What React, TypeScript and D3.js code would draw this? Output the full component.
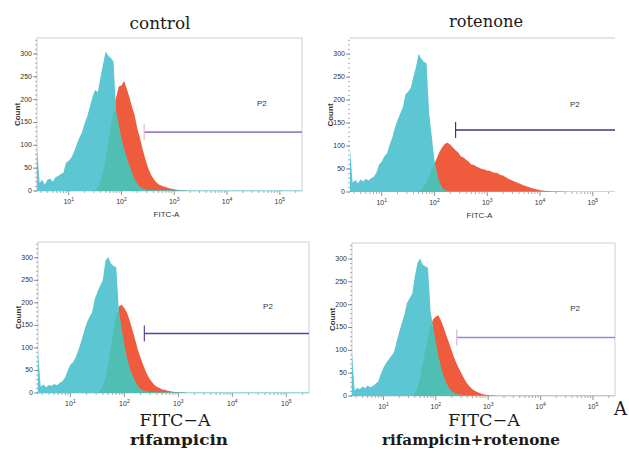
import React from "react";
import * as d3 from "d3";

// log10(FITC-A) bin centres shared by every histogram
const logBins = [
  0.4, 0.45, 0.5, 0.55, 0.6, 0.65, 0.7, 0.75, 0.8, 0.85,
  0.9, 0.95, 1.0, 1.05, 1.1, 1.15, 1.2, 1.25, 1.3, 1.35,
  1.4, 1.45, 1.5, 1.55, 1.6, 1.65, 1.7, 1.75, 1.8, 1.85,
  1.9, 1.95, 2.0, 2.05, 2.1, 2.15, 2.2, 2.25, 2.3, 2.35,
  2.4, 2.45, 2.5, 2.55, 2.6, 2.65, 2.7, 2.75, 2.8, 2.85,
  2.9, 2.95, 3.0, 3.05, 3.1, 3.15, 3.2, 3.25, 3.3, 3.35,
  3.4, 3.55, 3.7, 3.85, 4.0, 4.2, 4.6, 5.0, 5.42,
];

const cyanControl = [
  95, 18, 24, 14, 25, 27, 20, 30, 33, 37,
  40, 62, 66, 73, 86, 101, 116, 128, 147, 163,
  184, 206, 221, 216, 247, 277, 306, 296, 291, 283,
  172, 141, 113, 91, 72, 55, 38, 25, 15, 9,
  5, 3, 2, 2, 1, 1, 1, 1, 1, 1,
  1, 1, 1, 1, 1, 1, 1, 1, 1, 1,
  1, 1, 1, 1, 1, 1, 1, 1, 1,
];
const redControl = [
  0, 0, 0, 0, 0, 0, 0, 0, 0, 0,
  0, 0, 0, 0, 0, 0, 0, 0, 0, 0,
  0, 0, 2, 6, 20, 40, 70, 105, 140, 176,
  206, 229, 231, 241, 224, 206, 184, 166, 137, 116,
  92, 71, 52, 38, 28, 20, 15, 12, 10, 8,
  6, 5, 4, 3, 2, 1, 1, 0, 0, 0,
  0, 0, 0, 0, 0, 0, 0, 0, 0,
];

const cyanRotenone = [
  93, 20, 26, 19, 27, 23, 29, 25, 30, 33,
  42, 60, 66, 78, 84, 103, 118, 140, 156, 170,
  184, 212, 218, 226, 250, 272, 301, 290, 283, 280,
  170, 120, 69, 38, 18, 8, 4, 2, 1, 1,
  1, 1, 1, 1, 1, 1, 1, 1, 1, 1,
  1, 1, 1, 1, 1, 1, 1, 1, 1, 1,
  1, 1, 1, 1, 1, 1, 1, 1, 1,
];
const redRotenone = [
  0, 0, 0, 0, 0, 0, 0, 0, 0, 0,
  0, 0, 0, 0, 0, 0, 0, 0, 0, 0,
  0, 0, 0, 0, 0, 0, 2, 5, 12, 20,
  35, 50, 62, 75, 88, 98, 105, 107, 103, 97,
  91, 86, 77, 75, 70, 66, 60, 59, 55, 53,
  50, 49, 46, 46, 43, 42, 41, 37, 36, 32,
  29, 21, 14, 8, 4, 1, 0, 0, 0,
];

const cyanRifampicin = [
  93, 14, 19, 13, 18, 16, 20, 17, 22, 26,
  34, 50, 63, 68, 80, 96, 115, 136, 155, 168,
  178, 208, 224, 238, 250, 294, 302, 288, 282, 279,
  180, 140, 105, 75, 55, 38, 25, 15, 8, 5,
  3, 2, 2, 1, 1, 1, 1, 1, 1, 1,
  1, 1, 1, 1, 1, 1, 1, 1, 1, 1,
  1, 1, 1, 1, 1, 1, 1, 1, 1,
];
const redRifampicin = [
  0, 0, 0, 0, 0, 0, 0, 0, 0, 0,
  0, 0, 0, 0, 0, 0, 0, 0, 0, 0,
  0, 0, 0, 5, 15, 35, 65, 100, 140, 175,
  192, 196, 188, 178, 160, 140, 118, 96, 78, 62,
  47, 35, 26, 19, 14, 11, 8, 7, 5, 4,
  3, 2, 2, 1, 1, 0, 0, 0, 0, 0,
  0, 0, 0, 0, 0, 0, 0, 0, 0,
];

const cyanRifRot = [
  92, 12, 18, 15, 21, 17, 23, 19, 22, 27,
  32, 48, 62, 72, 80, 88, 95, 118, 140, 160,
  178, 204, 214, 224, 262, 292, 301, 288, 284, 281,
  185, 150, 115, 85, 60, 42, 28, 17, 10, 6,
  4, 3, 2, 1, 1, 1, 1, 1, 1, 1,
  1, 1, 1, 1, 1, 1, 1, 1, 1, 1,
  1, 1, 1, 1, 1, 1, 1, 1, 1,
];
const redRifRot = [
  0, 0, 0, 0, 0, 0, 0, 0, 0, 0,
  0, 0, 0, 0, 0, 0, 0, 0, 0, 0,
  0, 0, 0, 0, 5, 18, 40, 70, 100, 130,
  155, 168, 174, 176, 165, 150, 133, 117, 100, 84,
  70, 58, 47, 36, 27, 20, 15, 11, 8, 6,
  4, 3, 2, 1, 1, 0, 0, 0, 0, 0,
  0, 0, 0, 0, 0, 0, 0, 0, 0,
];

// P2 gate: start (log10 FITC-A) and level (count)
const gateStart = [2.43, 2.4, 2.37, 2.4];
const gateLevel = [129, 135, 132, 128];
const gateLabelPos = [4.66, 190];

const yTicks = [0, 50, 100, 150, 200, 250, 300];
const xDecades = [1, 2, 3, 4, 5];

const CYAN = "#5dc6d3";
const RED = "#ee5b3d";
const TEAL = "#4fbfb3";

type PanelProps = {
  box: { x: number; y: number; w: number; h: number };
  cyan: number[];
  red: number[];
  gate: number;
  gateColor: string;
  tickColor: string;
  smallLabel: boolean;
  openFrame?: boolean;
};

const Panel = ({ box, cyan, red, gate, gateColor, tickColor, smallLabel, openFrame }: PanelProps) => {
  const x = d3.scaleLinear().domain([0.4, 5.42]).range([box.x, box.x + box.w]);
  const y = d3.scaleLinear().domain([0, 335]).range([box.y + box.h, box.y]);

  const area = d3
    .area<number>()
    .x((d, i) => x(logBins[i]))
    .y0(y(0))
    .y1((d) => y(d));

  const overlap = cyan.map((c, i) => Math.min(c, red[i]));

  // log minor ticks
  const minor: number[] = [];
  for (let k = 0; k <= 5; k++) {
    for (let m = 2; m <= 9; m++) {
      const v = k + Math.log10(m);
      if (v > 0.4 && v < 5.42) minor.push(v);
    }
  }
  const yMinor = d3.range(0, 336, 10);

  const gy = y(gateLevel[gate]);
  const gx = x(gateStart[gate]);

  return (
    <g>
      {openFrame ? (
        <line x1={box.x} x2={box.x + box.w} y1={box.y} y2={box.y} stroke="#c8c8c8" strokeWidth={1} />
      ) : (
        <rect x={box.x} y={box.y} width={box.w} height={box.h} fill="none" stroke="#cfcfcf" strokeWidth={1} />
      )}
      <path d={area(red) || ""} fill={RED} />
      <path d={area(cyan) || ""} fill={CYAN} />
      <path d={area(overlap) || ""} fill={TEAL} />

      {/* gate */}
      <line x1={gx} x2={box.x + box.w} y1={gy} y2={gy} stroke={gateColor} strokeWidth={1.6} />
      <line x1={gx} x2={gx} y1={gy - 8} y2={gy + 8} stroke={tickColor} strokeWidth={1.2} />
      <text
        x={x(gateLabelPos[0])}
        y={y(gateLabelPos[1])}
        fontFamily="Liberation Sans, sans-serif"
        fontSize={8}
        fill="#333"
        textAnchor="middle"
        dominantBaseline="middle"
      >
        P2
      </text>

      {/* y axis */}
      {yMinor.map((v) => (
        <line key={"ym" + v} x1={box.x - 2} x2={box.x} y1={y(v)} y2={y(v)} stroke="#999" strokeWidth={0.8} />
      ))}
      {yTicks.map((v) => (
        <g key={"yt" + v}>
          <line x1={box.x - 4} x2={box.x} y1={y(v)} y2={y(v)} stroke="#777" strokeWidth={0.8} />
          <text
            x={box.x - 5}
            y={y(v)}
            fontFamily="Liberation Sans, sans-serif"
            fontSize={7}
            fill="#333"
            textAnchor="end"
            dominantBaseline="middle"
          >
            {v}
          </text>
        </g>
      ))}
      <text
        transform={`translate(${box.x - 19},${box.y + box.h / 2}) rotate(-90)`}
        fontFamily="Liberation Sans, sans-serif"
        fontSize={8}
        fontWeight="bold"
        fill="#333"
        textAnchor="middle"
        dominantBaseline="middle"
      >
        Count
      </text>

      {/* x axis */}
      {minor.map((v, i) => (
        <line
          key={"xm" + i}
          x1={x(v)}
          x2={x(v)}
          y1={box.y + box.h}
          y2={box.y + box.h + 2}
          stroke="#999"
          strokeWidth={0.8}
        />
      ))}
      {xDecades.map((k) => (
        <g key={"xt" + k}>
          <line x1={x(k)} x2={x(k)} y1={box.y + box.h} y2={box.y + box.h + 4} stroke="#777" strokeWidth={0.8} />
          <text
            x={x(k)}
            y={box.y + box.h + 13}
            fontFamily="Liberation Sans, sans-serif"
            fontSize={7}
            fill="#333"
            textAnchor="middle"
          >
            10
            <tspan dy={-3} fontSize={5}>
              {k}
            </tspan>
          </text>
        </g>
      ))}
      {smallLabel && (
        <text
          x={box.x + box.w / 2 - 3}
          y={box.y + box.h + 26}
          fontFamily="Liberation Sans, sans-serif"
          fontSize={8}
          fill="#333"
          textAnchor="middle"
        >
          FITC-A
        </text>
      )}
    </g>
  );
};

const App = () => {
  const serif = "DejaVu Serif, serif";
  return (
    <svg
      width={629}
      height={453}
      style={{ position: "absolute", left: 0, top: 0, background: "#fff" }}
    >
      <text x={160} y={29} fontFamily={serif} fontSize={17} textLength={61} lengthAdjust="spacingAndGlyphs" textAnchor="middle" fill="#1a1a1a">
        control
      </text>
      <text x={486} y={27} fontFamily={serif} fontSize={17} textLength={74} lengthAdjust="spacingAndGlyphs" textAnchor="middle" fill="#1a1a1a">
        rotenone
      </text>

      <Panel box={{ x: 37, y: 38, w: 265, h: 153 }} cyan={cyanControl} red={redControl} gate={0} gateColor="#9a80cc" tickColor="#e9b9d9" smallLabel />
      <Panel box={{ x: 350, y: 38, w: 265, h: 154 }} cyan={cyanRotenone} red={redRotenone} gate={1} gateColor="#4b2c8c" tickColor="#4b2c8c" smallLabel openFrame />
      <Panel box={{ x: 38, y: 242, w: 271, h: 151 }} cyan={cyanRifampicin} red={redRifampicin} gate={2} gateColor="#5e41a3" tickColor="#5e41a3" smallLabel={false} />
      <Panel box={{ x: 352, y: 243, w: 263, h: 153 }} cyan={cyanRifRot} red={redRifRot} gate={3} gateColor="#a283d6" tickColor="#d9b5e0" smallLabel={false} />

      <text x={175} y={426} fontFamily={serif} fontSize={17} textLength={71} lengthAdjust="spacingAndGlyphs" textAnchor="middle" fill="#1a1a1a">
        FITC−A
      </text>
      <text x={179} y={445} fontFamily={serif} fontSize={14} fontWeight="bold" textLength={98} lengthAdjust="spacingAndGlyphs" textAnchor="middle" fill="#1a1a1a">
        rifampicin
      </text>
      <text x={484} y={426} fontFamily={serif} fontSize={17} textLength={72} lengthAdjust="spacingAndGlyphs" textAnchor="middle" fill="#1a1a1a">
        FITC−A
      </text>
      <text x={471} y={445} fontFamily={serif} fontSize={14} fontWeight="bold" textLength={178} lengthAdjust="spacingAndGlyphs" textAnchor="middle" fill="#1a1a1a">
        rifampicin+rotenone
      </text>
      <text x={614} y={415} fontFamily={serif} fontSize={18} fill="#1a1a1a">
        A
      </text>
    </svg>
  );
};

export default App;
